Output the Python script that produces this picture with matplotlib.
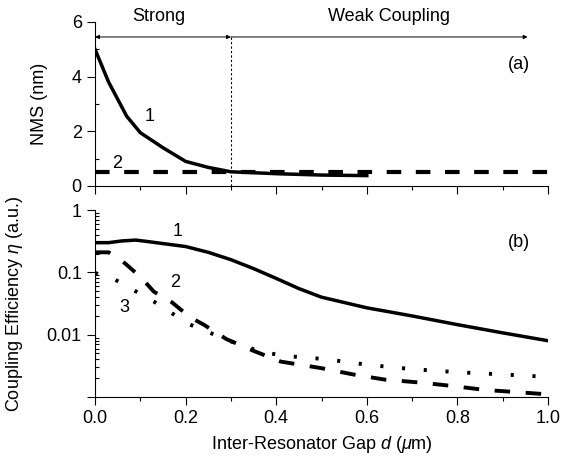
import matplotlib
matplotlib.use("Agg")
import matplotlib.pyplot as plt
from matplotlib.ticker import FixedLocator, FixedFormatter, MultipleLocator, LogLocator, NullFormatter

plt.rcParams['font.family'] = ['Liberation Sans', 'DejaVu Sans']
plt.rcParams['mathtext.fontset'] = 'custom'
plt.rcParams['mathtext.rm'] = 'Liberation Sans'
plt.rcParams['mathtext.it'] = 'Liberation Sans:italic'

# panel (a): NMS vs gap
nms1_x = [0.0, 0.03, 0.07, 0.10, 0.15, 0.20, 0.25, 0.30, 0.40, 0.50, 0.60]
nms1_y = [5.0, 3.8, 2.55, 1.95, 1.4, 0.9, 0.68, 0.52, 0.45, 0.40, 0.38]
nms2_x = [0.0, 1.0]
nms2_y = [0.5, 0.5]

# panel (b): coupling efficiency vs gap
eta1_x = [0.0, 0.03, 0.06, 0.09, 0.12, 0.15, 0.20, 0.25, 0.30, 0.35, 0.40, 0.45,
          0.50, 0.60, 0.70, 0.80, 0.90, 1.0]
eta1_y = [0.30, 0.30, 0.32, 0.33, 0.31, 0.29, 0.26, 0.21, 0.16, 0.115, 0.080, 0.055,
          0.040, 0.027, 0.020, 0.0145, 0.0107, 0.0080]
eta2_x = [0.0, 0.03, 0.066, 0.10, 0.13, 0.17, 0.21, 0.24, 0.29, 0.35, 0.41, 0.50,
          0.57, 0.64, 0.72, 0.79, 0.86, 0.93, 1.0]
eta2_y = [0.21, 0.21, 0.14, 0.085, 0.049, 0.033, 0.019, 0.0145, 0.0085, 0.0055, 0.0037, 0.0029,
          0.0023, 0.0019, 0.0017, 0.0015, 0.0013, 0.0012, 0.0011]
eta3_x = [0.0, 0.045, 0.085, 0.13, 0.17, 0.21, 0.25, 0.30, 0.37, 0.43, 0.50, 0.55,
          0.60, 0.70, 0.80, 0.90, 1.0]
eta3_y = [0.098, 0.076, 0.052, 0.034, 0.022, 0.0145, 0.011, 0.0078, 0.0052, 0.0045, 0.0041, 0.0037,
          0.0033, 0.0028, 0.0025, 0.0023, 0.0021]

fig = plt.figure(figsize=(5.7, 4.57), dpi=100)
ax1 = fig.add_axes([0.1667, 0.593, 0.7947, 0.359])
ax2 = fig.add_axes([0.1667, 0.1313, 0.7947, 0.409])

fs = 13

# ---- top panel
ax1.plot(nms1_x, nms1_y, color='black', lw=2.5)
ax1.plot(nms2_x, nms2_y, color='black', lw=3, dashes=(3.5, 3.5))
ax1.set_xlim(0, 1.0)
ax1.set_ylim(0, 6)
ax1.xaxis.set_major_locator(MultipleLocator(0.2))
ax1.xaxis.set_minor_locator(MultipleLocator(0.1))
ax1.yaxis.set_major_locator(MultipleLocator(2))
ax1.yaxis.set_minor_locator(MultipleLocator(1))
ax1.tick_params(axis='x', which='both', labelbottom=False)
ax1.set_ylabel('NMS (nm)', fontsize=fs)
ax1.yaxis.set_label_coords(-0.104, 0.5)
ax1.text(0.12, 2.53, '1', fontsize=fs, ha='center', va='center')
ax1.text(0.048, 0.84, '2', fontsize=fs, ha='center', va='center')
ax1.text(0.96, 4.43, '(a)', fontsize=fs, ha='right', va='center')

# coupling regime markers
ax1.axvline(0.3, ymin=0, ymax=5.45 / 6, color='black', lw=0.8, ls=(0, (2, 2)))
ax1.annotate('', xy=(0.0, 5.45), xytext=(0.3, 5.45),
             arrowprops=dict(arrowstyle='<|-|>', lw=0.7, color='black',
                             mutation_scale=6, shrinkA=0, shrinkB=0))
ax1.annotate('', xy=(0.3, 5.45), xytext=(0.955, 5.45),
             arrowprops=dict(arrowstyle='<|-', lw=0.7, color='black',
                             mutation_scale=6, shrinkA=0, shrinkB=0))
ax1.text(0.14, 6.2, 'Strong', fontsize=fs, ha='center', va='center', clip_on=False)
ax1.text(0.65, 6.2, 'Weak Coupling', fontsize=fs, ha='center', va='center', clip_on=False)

# ---- bottom panel
ax2.plot(eta1_x, eta1_y, color='black', lw=2.5)
ax2.plot(eta2_x, eta2_y, color='black', lw=2.8, dashes=(4, 4))
ax2.plot(eta3_x, eta3_y, color='black', lw=2.8, dashes=(0.8, 4.8))
ax2.set_yscale('log')
ax2.set_xlim(0, 1.0)
ax2.set_ylim(0.001, 1)
ax2.xaxis.set_major_locator(MultipleLocator(0.2))
ax2.xaxis.set_minor_locator(MultipleLocator(0.1))
ax2.yaxis.set_major_locator(FixedLocator([0.001, 0.01, 0.1, 1]))
ax2.yaxis.set_major_formatter(FixedFormatter(['', '0.01', '0.1', '1']))
ax2.yaxis.set_minor_locator(LogLocator(base=10, subs=range(2, 10)))
ax2.yaxis.set_minor_formatter(NullFormatter())
ax2.xaxis.set_major_formatter(matplotlib.ticker.FormatStrFormatter('%.1f'))
ax2.set_ylabel(r'Coupling Efficiency $\eta$ (a.u.)', fontsize=fs)
ax2.yaxis.set_label_coords(-0.155, 0.5)
ax2.set_xlabel(r'Inter-Resonator Gap $d$ ($\mu$m)', fontsize=fs)
ax2.xaxis.set_label_coords(0.5, -0.2)
ax2.text(0.183, 0.445, '1', fontsize=fs, ha='center', va='center')
ax2.text(0.177, 0.07, '2', fontsize=fs, ha='center', va='center')
ax2.text(0.064, 0.027, '3', fontsize=fs, ha='center', va='center')
ax2.text(0.96, 0.30, '(b)', fontsize=fs, ha='right', va='center')

for ax in (ax1, ax2):
    for s in ('top', 'right'):
        ax.spines[s].set_visible(False)
    ax.tick_params(which='major', direction='out', length=6, width=0.8, labelsize=fs)
    ax.tick_params(axis='x', which='minor', direction='out', length=3, width=0.8)
    ax.tick_params(axis='y', which='minor', direction='in', length=3, width=0.8)

fig.savefig('out.png', dpi=100)
